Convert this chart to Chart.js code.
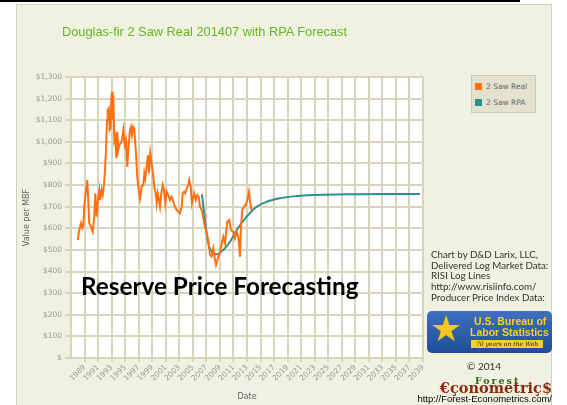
<!DOCTYPE html>
<html>
<head>
<meta charset="utf-8">
<script src="https://cdn.jsdelivr.net/npm/chart.js@4"></script>
<style>
    html, body { margin: 0; padding: 0; background: #fff; width: 567px; height: 405px; overflow: hidden; }
    .topline { position: absolute; left: 0; top: 0; width: 520px; height: 2px; background: #000; }
    .panel { position: absolute; left: 16px; top: 4px; width: 536px; height: 420px; background: #f1f1e1; border: 1px solid #d2d2bc; box-sizing: border-box; }
    #chartCanvas { position: absolute; left: 0; top: 0; }
    .title { position: absolute; left: 62px; top: 24px; font: 12.8px "Liberation Sans", Arial, sans-serif; color: #63b821; white-space: nowrap; }
    .legend { position: absolute; left: 471px; top: 75px; width: 65px; height: 38px; background: #e2e2cf; border: 1px solid #c9c9b1; box-sizing: border-box; }
    .legend-item { position: absolute; left: 3px; font: 7.5px "DejaVu Sans", sans-serif; color: #666; white-space: nowrap; }
    .legend-item span { display: inline-block; width: 7px; height: 7px; margin-right: 4px; vertical-align: -1px; }
    .watermark { position: absolute; left: 81px; top: 274px; font: 700 24.3px Lato, sans-serif; color: #000; line-height: 24px; white-space: nowrap; }
    .credits { position: absolute; left: 431px; top: 249px; font: 9.75px Lato, sans-serif; line-height: 10.7px; color: #333; white-space: nowrap; }
    .bls { position: absolute; left: 427px; top: 311px; width: 125px; height: 42px; border-radius: 5px; background: linear-gradient(#4070bd, #1f4d99); overflow: hidden; }
    .bls .star { position: absolute; left: 3px; top: -3px; font: 36px "DejaVu Sans", sans-serif; color: #f2c81a; }
    .bls .t1 { position: absolute; left: 47px; top: 4px; font: 700 10.5px "Liberation Sans", Arial, sans-serif; color: #f6d21c; white-space: nowrap; }
    .bls .t2 { position: absolute; left: 43px; top: 15px; font: 700 10.5px "Liberation Sans", Arial, sans-serif; color: #f6d21c; white-space: nowrap; }
    .bls .banner { position: absolute; left: 44px; top: 29px; width: 72px; height: 8px; background: #f2cf2a; font: italic 6px "DejaVu Serif", serif; color: #223; text-align: center; line-height: 8px; white-space: nowrap; }
    .copy { position: absolute; left: 467px; top: 360px; font: 10px Lato, sans-serif; color: #333; }
    .forest { position: absolute; left: 475px; top: 375px; font: 700 9.5px "DejaVu Serif", serif; color: #2e5f1a; letter-spacing: 2px; }
    .econ { position: absolute; right: 15px; top: 379px; font: 700 14.5px "DejaVu Serif", serif; color: #8a2c0d; white-space: nowrap; }
    .url { position: absolute; right: 15px; top: 393px; font: 9.5px "Liberation Sans", Arial, sans-serif; color: #000; white-space: nowrap; }
</style>
</head>
<body>
<div class="topline"></div>
<div class="panel"></div>
<canvas id="chartCanvas" width="567" height="405"></canvas>
<div class="title">Douglas-fir 2 Saw Real 201407 with RPA Forecast</div>
<div class="legend" id="legendBox"></div>
<div class="watermark">Reserve Price Forecasting</div>
<div class="credits">Chart by D&amp;D Larix, LLC,<br>Delivered Log Market Data:<br>RISI Log Lines<br>http://www.risiinfo.com/<br>Producer Price Index Data:</div>
<div class="bls">
    <div class="star">★</div>
    <div class="t1">U.S. Bureau of</div>
    <div class="t2">Labor Statistics</div>
    <div class="banner">70 years on the Web</div>
</div>
<div class="copy">© 2014</div>
<div class="forest">Forest</div>
<div class="econ">€çonometriç$</div>
<div class="url">http://Forest-Econometrics.com/</div>

<script>
// Dữ liệu giá thực (năm thập phân, $/MBF)
const realYears = [
    1988.00, 1988.18, 1988.48, 1988.67, 1988.82, 1988.96, 1989.22, 1989.41, 1989.56, 1989.70,
    1989.95, 1990.21, 1990.44, 1990.59, 1990.80, 1991.03, 1991.18, 1991.28, 1991.53, 1991.68,
    1991.87, 1992.02, 1992.17, 1992.32, 1992.42, 1992.57, 1992.72, 1992.86, 1992.95, 1993.06,
    1993.16, 1993.25, 1993.40, 1993.54, 1993.69, 1993.84, 1993.99, 1994.13, 1994.34, 1994.53,
    1994.73, 1994.93, 1995.12, 1995.32, 1995.46, 1995.71, 1995.86, 1996.01, 1996.20, 1996.35,
    1996.60, 1996.79, 1997.00, 1997.19, 1997.44, 1997.68, 1997.83, 1997.97, 1998.18, 1998.37,
    1998.52, 1998.71, 1998.92, 1999.16, 1999.30, 1999.51, 1999.66, 1999.81, 2000.00, 2000.15,
    2000.34, 2000.55, 2000.74, 2000.93, 2001.14, 2001.37, 2001.62, 2001.87, 2002.11, 2002.36,
    2002.61, 2002.85, 2003.10, 2003.35, 2003.50, 2003.69, 2003.88, 2004.09, 2004.33, 2004.47,
    2004.68, 2004.87, 2005.06, 2005.21, 2005.42, 2005.66, 2005.86, 2006.05, 2006.31, 2006.54,
    2006.79, 2007.28, 2007.53, 2007.78, 2008.02, 2008.27, 2008.42, 2008.76, 2009.01, 2009.26,
    2009.50, 2009.75, 2010.09, 2010.38, 2010.63, 2010.97, 2011.22, 2011.48, 2011.71, 2011.86,
    2011.96, 2012.11, 2012.30, 2012.55, 2012.80, 2013.04, 2013.29, 2013.48, 2013.69
];
const realValues = [
    546, 584, 623, 601, 615, 700, 777, 823, 717, 624,
    607, 584, 654, 762, 654, 746, 777, 731, 777, 754,
    800, 870, 962, 1101, 1147, 1155, 1055, 1063, 1193, 1232,
    1101, 1217, 1008, 1024, 924, 1047, 962, 985, 993, 1008,
    1055, 985, 1008, 885, 962, 1055, 1070, 1032, 1070, 1063,
    947, 839, 777, 739, 793, 800, 854, 831, 885, 939,
    854, 947, 901, 839, 793, 762, 716, 762, 731, 700,
    762, 800, 777, 716, 769, 754, 731, 746, 723, 700,
    685, 677, 669, 700, 762, 769, 762, 785, 800, 823,
    793, 716, 746, 762, 731, 754, 746, 700, 685, 650,
    607, 546, 476, 469, 507, 453, 430, 469, 484, 530,
    561, 530, 631, 638, 592, 584, 554, 584, 561, 515,
    469, 607, 685, 700, 708, 731, 769, 716, 685
];

// Dự báo RPA
const rpaYears = [2006.35, 2006.79, 2007.28, 2008.02, 2008.52, 2009.50, 2010.49, 2011.48, 2012.95, 2014.43, 2015.91, 2017.87, 2020.34, 2022.79, 2027.72, 2032.64, 2038.55];
const rpaValues = [757, 638, 531, 484, 480, 500, 538, 592, 654, 700, 723, 739, 749, 754, 757, 759, 759];

// Nhãn trục
const xTickYears = [1989, 1991, 1993, 1995, 1997, 1999, 2001, 2003, 2005, 2007, 2009, 2011, 2013,
    2015, 2017, 2019, 2021, 2023, 2025, 2027, 2029, 2031, 2033, 2035, 2037, 2039];
const yTickValues = [0, 100, 200, 300, 400, 500, 600, 700, 800, 900, 1000, 1100, 1200, 1300];

function toPoints(xs, ys) {
    return xs.map((x, i) => ({ x: x, y: ys[i] }));
}

// Nền trắng cho vùng vẽ
const plotBackground = {
    id: 'plotBackground',
    beforeDraw(chart) {
        const a = chart.chartArea;
        const ctx = chart.ctx;
        ctx.save();
        ctx.fillStyle = '#ffffff';
        ctx.fillRect(a.left, a.top, a.right - a.left, a.bottom - a.top);
        ctx.restore();
    }
};

Chart.defaults.font.family = '"DejaVu Sans", sans-serif';
Chart.defaults.font.size = 7.5;
Chart.defaults.color = '#999';

const gridColor = '#d8d5bd';

const chart = new Chart(document.getElementById('chartCanvas'), {
    type: 'line',
    data: {
        datasets: [
            {
                label: '2 Saw Real',
                data: toPoints(realYears, realValues),
                borderColor: '#ff7110',
                backgroundColor: '#ff7110',
                borderWidth: 2,
                pointRadius: 0,
                tension: 0
            },
            {
                label: '2 Saw RPA',
                data: toPoints(rpaYears, rpaValues),
                borderColor: '#2b9090',
                backgroundColor: '#2b9090',
                borderWidth: 2,
                pointRadius: 0,
                cubicInterpolationMode: 'monotone'
            }
        ]
    },
    options: {
        responsive: false,
        animation: false,
        layout: { padding: { left: 16, top: 77, right: 144, bottom: 0 } },
        plugins: { legend: { display: false }, tooltip: { enabled: false } },
        scales: {
            x: {
                type: 'linear',
                min: 1987,
                max: 2039,
                afterBuildTicks: s => { s.ticks = xTickYears.map(v => ({ value: v })); },
                afterFit: s => { s.height = 47; },
                ticks: {
                    autoSkip: false,
                    minRotation: 45,
                    maxRotation: 45,
                    padding: 1,
                    callback: v => String(v)
                },
                grid: { color: gridColor, lineWidth: 2, tickLength: 4 },
                border: { color: gridColor, width: 2 },
                title: { display: true, text: 'Date', color: '#666', font: { size: 8 }, padding: { top: 2, bottom: 3 } }
            },
            y: {
                min: 0,
                max: 1300,
                afterBuildTicks: s => { s.ticks = yTickValues.map(v => ({ value: v })); },
                afterFit: s => { s.width = 55; },
                ticks: {
                    padding: 3,
                    callback: v => v === 0 ? '$' : '$' + v.toLocaleString('en-US')
                },
                grid: { color: gridColor, lineWidth: 2, tickLength: 6 },
                border: { color: gridColor, width: 2 },
                title: { display: true, text: 'Value per MBF', color: '#666', font: { size: 8 }, padding: { top: 6, bottom: 2 } }
            }
        }
    },
    plugins: [plotBackground]
});

// Chú giải HTML từ các dataset
const legendBox = document.getElementById('legendBox');
chart.data.datasets.forEach((ds, i) => {
    const item = document.createElement('div');
    item.className = 'legend-item';
    item.style.top = (i === 0 ? 6 : 22) + 'px';
    item.innerHTML = '<span style="background:' + ds.borderColor + '"></span>' + ds.label;
    legendBox.appendChild(item);
});
</script>
</body>
</html>
